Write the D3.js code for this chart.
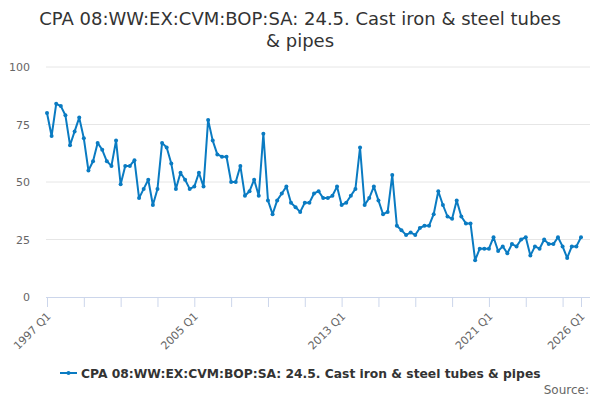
<!DOCTYPE html>
<html>
<head>
<meta charset="utf-8">
<script src="https://cdn.jsdelivr.net/npm/d3@7"></script>
<style>
  body { margin: 0; background: #fff; }
  svg { font-family: "DejaVu Sans", sans-serif; }
</style>
</head>
<body>
<svg id="chart" width="600" height="400"></svg>
<script>
// Quarterly values, 1997 Q1 .. 2026 Q1
const startYear = 1997;
const values = [
  80, 70, 84, 83, 79, 66, 72, 78, 69, 55, 59, 67, 64, 59, 57, 68,
  49, 57, 57, 59.5, 43, 47, 51, 40, 47, 67, 65, 58, 47, 54, 51, 47,
  48, 54, 48, 77, 68, 62, 61, 61, 50, 50, 57, 44, 46, 51, 44, 71,
  42, 36, 42, 45, 48, 41, 39, 37, 41, 41, 45, 46, 43, 43, 44, 48,
  40, 41, 44, 47, 65, 40, 43, 48, 42, 36, 37, 53, 31, 29, 27, 28,
  27, 30, 31, 31, 36, 46, 40, 35, 34, 42, 35, 32, 32, 16, 21, 21,
  21, 26, 20, 22, 19, 23, 22, 25, 26, 18, 22, 21, 25, 23, 23, 26,
  22, 17, 22, 22, 26
];
const labels = values.map((v, i) => `${startYear + Math.floor(i / 4)} Q${(i % 4) + 1}`);
const labelledTicks = ["1997 Q1", "2005 Q1", "2013 Q1", "2021 Q1", "2026 Q1"];
const yTicks = [0, 25, 50, 75, 100];
const seriesName = "CPA 08:WW:EX:CVM:BOP:SA: 24.5. Cast iron & steel tubes & pipes";
const titleLines = ["CPA 08:WW:EX:CVM:BOP:SA: 24.5. Cast iron & steel tubes", "& pipes"];

const svg = d3.select("#chart");
const plotL = 47, plotR = 581, plotT = 67, plotB = 297;
const color = "#0a7bc2";

const x = d3.scaleLinear().domain([0, values.length - 1]).range([plotL, plotR]);
const y = d3.scaleLinear().domain([0, 100]).range([plotB, plotT]);

// title
svg.append("text")
  .attr("x", 300).attr("y", 25)
  .attr("text-anchor", "middle")
  .attr("fill", "#333").attr("font-size", 18)
  .selectAll("tspan").data(titleLines).join("tspan")
    .attr("x", 300).attr("dy", (d, i) => i ? 22 : 0)
    .text(d => d);

// grid + y labels
svg.append("g").selectAll("line").data(yTicks.filter(d => d > 0)).join("line")
  .attr("x1", plotL - 1).attr("x2", 590)
  .attr("y1", d => y(d)).attr("y2", d => y(d))
  .attr("stroke", "#e6e6e6");

svg.append("g").selectAll("text").data(yTicks).join("text")
  .attr("x", 30).attr("y", d => y(d) + 4)
  .attr("text-anchor", "end")
  .attr("fill", "#666").attr("font-size", 11)
  .text(d => d);

// x axis: a tick every 2 years, labels every 8 years + last quarter
const tickIdx = labels.map((l, i) => i).filter(i => i % 8 === 0 || i === labels.length - 1);
const xAxis = d3.axisBottom(x)
  .tickValues(tickIdx)
  .tickSize(10)
  .tickFormat(i => labelledTicks.includes(labels[i]) ? labels[i] : "");
const gx = svg.append("g").attr("transform", `translate(0,${plotB})`).call(xAxis);
gx.select(".domain").attr("stroke", "#ccd6eb").attr("d", `M${plotL - 1},0.5H590`);
gx.selectAll(".tick line").attr("stroke", "#ccd6eb");
gx.selectAll(".tick text")
  .attr("fill", "#666").attr("font-size", 11)
  .attr("font-family", "DejaVu Sans, sans-serif")
  .attr("text-anchor", "end")
  .attr("x", 0).attr("y", 0).attr("dy", null)
  .attr("transform", "translate(4,20) rotate(-45)");

// line
svg.append("path")
  .datum(values)
  .attr("fill", "none")
  .attr("stroke", color)
  .attr("stroke-width", 2)
  .attr("stroke-linejoin", "round")
  .attr("d", d3.line().x((d, i) => x(i)).y(d => y(d)));

svg.append("g").selectAll("circle").data(values).join("circle")
  .attr("cx", (d, i) => x(i)).attr("cy", d => y(d))
  .attr("r", 2).attr("fill", color);

// legend
const lg = svg.append("g").attr("transform", "translate(60,373)");
lg.append("line").attr("x1", 0).attr("x2", 17).attr("y1", 0).attr("y2", 0)
  .attr("stroke", color).attr("stroke-width", 2);
lg.append("circle").attr("cx", 8.5).attr("cy", 0).attr("r", 2).attr("fill", color);
lg.append("text").attr("x", 21).attr("y", 4.5)
  .attr("fill", "#333").attr("font-size", 12.3).attr("font-weight", "bold")
  .text(seriesName);

svg.append("text")
  .attr("x", 589).attr("y", 394)
  .attr("text-anchor", "end")
  .attr("fill", "#666").attr("font-size", 12)
  .text("Source:");
</script>
</body>
</html>
